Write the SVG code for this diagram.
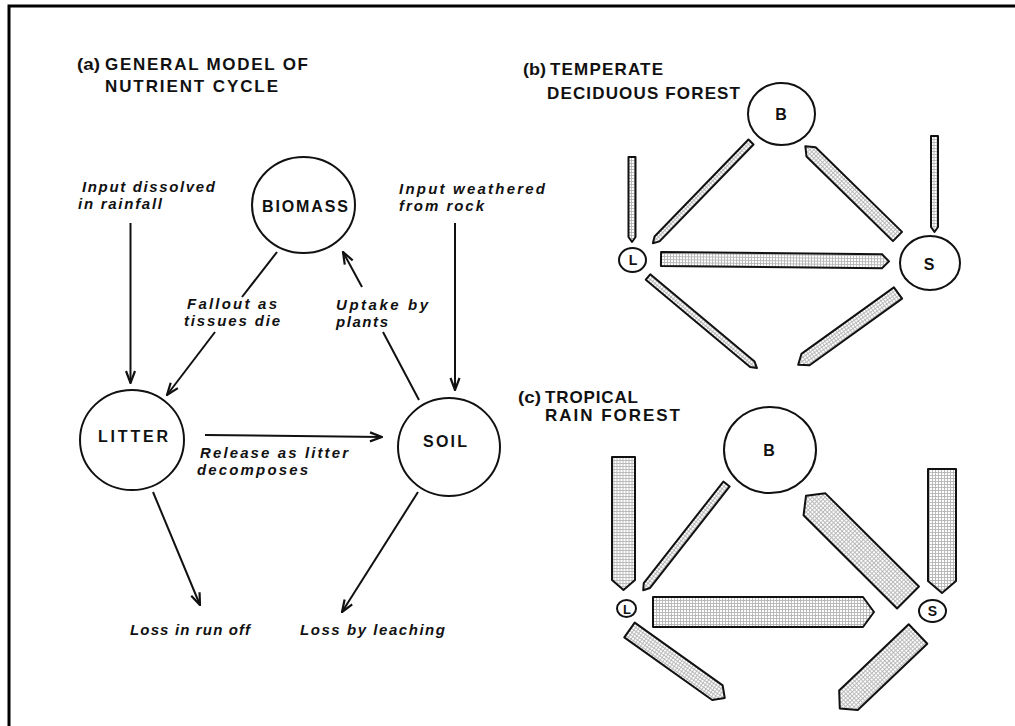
<svg xmlns="http://www.w3.org/2000/svg" width="1015" height="726" viewBox="0 0 1015 726">
<style>
.ttl{font-family:"Liberation Sans",Arial,Helvetica,sans-serif;font-weight:bold;font-size:17px;fill:#111}
.lbl{font-family:"Liberation Sans",Arial,Helvetica,sans-serif;font-style:italic;font-weight:bold;font-size:15px;fill:#111}
.nt{font-family:"Liberation Sans",Arial,Helvetica,sans-serif;font-weight:bold;font-size:16px;fill:#111}
.nc{fill:#fff;stroke:#111;stroke-width:2}
.ln{fill:none;stroke:#111;stroke-width:2}
.fat{fill:url(#dots);stroke:#111;stroke-width:2;stroke-linejoin:round}
</style>
<defs>
<pattern id="dots" width="3" height="3" patternUnits="userSpaceOnUse">
<rect width="3" height="3" fill="#fff"/>
<path d="M0,0.5H3M0.5,0V3" stroke="#b4b4b4" stroke-width="0.9"/>
</pattern>
<marker id="ah" viewBox="0 0 14 12" refX="13" refY="6" markerWidth="14" markerHeight="12" markerUnits="userSpaceOnUse" orient="auto">
<path d="M1,1.5 L13,6 L1,10.5" fill="none" stroke="#111" stroke-width="2.2"/>
</marker>
</defs>
<rect width="1015" height="726" fill="#fff"/>
<path d="M9,726 V6 H1015" fill="none" stroke="#000" stroke-width="3"/>

<g id="titles">
<text class="ttl" x="77" y="70" textLength="23" lengthAdjust="spacingAndGlyphs">(a)</text>
<text class="ttl" x="105" y="70" textLength="203" lengthAdjust="spacing">GENERAL MODEL OF</text>
<text class="ttl" x="105" y="92" textLength="173" lengthAdjust="spacing">NUTRIENT CYCLE</text>
<text class="ttl" x="523" y="75" textLength="23" lengthAdjust="spacingAndGlyphs">(b)</text>
<text class="ttl" x="550" y="75" textLength="113" lengthAdjust="spacing">TEMPERATE</text>
<text class="ttl" x="547" y="99" textLength="193" lengthAdjust="spacing">DECIDUOUS FOREST</text>
<text class="ttl" x="518" y="403" textLength="23" lengthAdjust="spacingAndGlyphs">(c)</text>
<text class="ttl" x="545" y="403" textLength="93" lengthAdjust="spacing">TROPICAL</text>
<text class="ttl" x="545" y="421" textLength="135" lengthAdjust="spacing">RAIN FOREST</text>
</g>

<g id="connectors">
<line class="ln" x1="130.5" y1="223" x2="130.5" y2="383" marker-end="url(#ah)"/>
<line class="ln" x1="455" y1="223" x2="455" y2="390" marker-end="url(#ah)"/>
<line class="ln" x1="277" y1="252" x2="242" y2="297"/>
<line class="ln" x1="215" y1="332" x2="167" y2="395" marker-end="url(#ah)"/>
<line class="ln" x1="419" y1="400" x2="383" y2="332"/>
<line class="ln" x1="362" y1="287" x2="343" y2="252" marker-end="url(#ah)"/>
<line class="ln" x1="205" y1="435" x2="382" y2="437" marker-end="url(#ah)"/>
<line class="ln" x1="153" y1="492" x2="200" y2="605" marker-end="url(#ah)"/>
<line class="ln" x1="418" y1="492" x2="342" y2="612" marker-end="url(#ah)"/>

<polygon class="fat" transform="translate(632,157) rotate(90)" points="0,-3.5 80,-3.5 85,0 80,3.5 0,3.5"/>
<polygon class="fat" transform="translate(934.5,136) rotate(90)" points="0,-3.5 91,-3.5 96,0 91,3.5 0,3.5"/>
<polygon class="fat" transform="translate(751,142) rotate(134.1)" points="0,-3.5 135,-3.5 141,0 135,3.5 0,3.5"/>
<polygon class="fat" transform="translate(897.5,236.5) rotate(-135.6)" points="0,-6.5 121,-6.5 129,0 121,6.5 0,6.5"/>
<polygon class="fat" transform="translate(661,259) rotate(0.6)" points="0,-7 221,-7 228,0 221,7 0,7"/>
<polygon class="fat" transform="translate(648,277) rotate(39.9)" points="0,-3.5 136,-3.5 142,0 136,3.5 0,3.5"/>
<polygon class="fat" transform="translate(898,293) rotate(144.25)" points="0,-7 114,-7 123,0 114,7 0,7"/>

<polygon class="fat" transform="translate(623.5,457) rotate(90)" points="0,-11.5 123,-11.5 133,0 123,11.5 0,11.5"/>
<polygon class="fat" transform="translate(942,469) rotate(90)" points="0,-14 112,-14 124,0 112,14 0,14"/>
<polygon class="fat" transform="translate(726.5,484) rotate(128.1)" points="0,-4 129,-4 135,0 129,4 0,4"/>
<polygon class="fat" transform="translate(908,597.5) rotate(-135.1)" points="0,-15.5 132,-15.5 144,0 132,15.5 0,15.5"/>
<polygon class="fat" transform="translate(653,612)" points="0,-15 210,-15 221,0 210,15 0,15"/>
<polygon class="fat" transform="translate(629.5,630) rotate(35.5)" points="0,-9 108,-9 117,0 108,9 0,9"/>
<polygon class="fat" transform="translate(918,634) rotate(136.4)" points="0,-13.5 96,-13.5 108,0 96,13.5 0,13.5"/>
</g>

<g id="labels">
<text class="lbl" x="82" y="192" textLength="133" lengthAdjust="spacing">Input dissolved</text>
<text class="lbl" x="78" y="209" textLength="84" lengthAdjust="spacing">in rainfall</text>
<text class="lbl" x="399" y="194" textLength="146" lengthAdjust="spacing">Input weathered</text>
<text class="lbl" x="399" y="211" textLength="85" lengthAdjust="spacing">from rock</text>
<text class="lbl" x="187" y="309" textLength="90" lengthAdjust="spacing">Fallout as</text>
<text class="lbl" x="184" y="326" textLength="96" lengthAdjust="spacing">tissues die</text>
<text class="lbl" x="336" y="310" textLength="92" lengthAdjust="spacing">Uptake by</text>
<text class="lbl" x="336" y="327" textLength="52" lengthAdjust="spacing">plants</text>
<text class="lbl" x="200" y="458" textLength="148" lengthAdjust="spacing">Release as litter</text>
<text class="lbl" x="197" y="475" textLength="111" lengthAdjust="spacing">decomposes</text>
<text class="lbl" x="130" y="635" textLength="120" lengthAdjust="spacing">Loss in run off</text>
<text class="lbl" x="300" y="635" textLength="145" lengthAdjust="spacing">Loss by leaching</text>
</g>

<g id="node-biomass">
<ellipse class="nc" cx="303.5" cy="205" rx="51.5" ry="48"/>
<text class="nt" x="262" y="212" textLength="86" lengthAdjust="spacing">BIOMASS</text>
</g>
<g id="node-litter">
<ellipse class="nc" cx="132" cy="440" rx="52" ry="50"/>
<text class="nt" x="98" y="442" textLength="70" lengthAdjust="spacing">LITTER</text>
</g>
<g id="node-soil">
<ellipse class="nc" cx="449" cy="447" rx="51" ry="49"/>
<text class="nt" x="423" y="447" textLength="44" lengthAdjust="spacing">SOIL</text>
</g>

<g id="node-b-B">
<ellipse class="nc" cx="781.5" cy="114" rx="33.5" ry="31"/>
<text class="nt" x="781" y="120" text-anchor="middle">B</text>
</g>
<g id="node-b-L">
<ellipse class="nc" cx="632.5" cy="260" rx="13.5" ry="12"/>
<text class="nt" x="633" y="265" text-anchor="middle" style="font-size:14px">L</text>
</g>
<g id="node-b-S">
<ellipse class="nc" cx="930" cy="263" rx="30" ry="27"/>
<text class="nt" x="929" y="270" text-anchor="middle">S</text>
</g>

<g id="node-c-B">
<ellipse class="nc" cx="770" cy="450" rx="46" ry="43"/>
<text class="nt" x="769" y="456" text-anchor="middle">B</text>
</g>
<g id="node-c-L">
<ellipse class="nc" cx="626.5" cy="608.5" rx="9.5" ry="8.5"/>
<text class="nt" x="627" y="613.5" text-anchor="middle" style="font-size:13px">L</text>
</g>
<g id="node-c-S">
<ellipse class="nc" cx="932.5" cy="611" rx="13.5" ry="11"/>
<text class="nt" x="932.5" y="616" text-anchor="middle" style="font-size:14px">S</text>
</g>
</svg>
